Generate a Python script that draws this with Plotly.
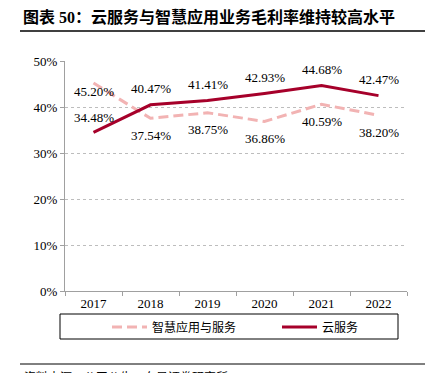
import plotly.graph_objects as go

years = ["2017", "2018", "2019", "2020", "2021", "2022"]
smart_app = [45.20, 37.54, 38.75, 36.86, 40.59, 38.20]
cloud = [34.48, 40.47, 41.41, 42.93, 44.68, 42.47]
y_ticks = [0, 10, 20, 30, 40, 50]
y_tick_labels = ["0%", "10%", "20%", "30%", "40%", "50%"]
name_smart = "智慧应用与服务"
name_cloud = "云服务"
title_text = "图表 50：云服务与智慧应用业务毛利率维持较高水平"
source_text = "资料来源：公司公告，东吴证券研究所"

# page is rendered with the browser's default 8px body margin
OFF = 8
PAGE_W, PAGE_H = 439, 373
W, H = PAGE_W - OFF, PAGE_H - OFF
# plot area in page pixels
L, R, T, B = 65, 407, 61, 291
PW, PH = R - L, B - T


def px(x):
    return (x - L) / PW


def py(y):
    return (B - y) / PH


SERIF = "Liberation Serif, Times New Roman, Noto Sans CJK SC, serif"
CJK = "Noto Sans CJK SC, sans-serif"
C_CLOUD = "#A6002A"
C_SMART = "#F2B3B3"

fig = go.Figure()
fig.add_trace(go.Scatter(x=years, y=smart_app, mode="lines", name=name_smart,
                         line=dict(color=C_SMART, width=3, dash="10px,5px"),
                         legend="legend"))
fig.add_trace(go.Scatter(x=years, y=cloud, mode="lines", name=name_cloud,
                         line=dict(color=C_CLOUD, width=3),
                         legend="legend2"))

smart_shift = [-8, -17, -17, -17, -17, -17]
cloud_shift = [15, 16, 16, 16, 16, 16]
annotations = []
for i, yr in enumerate(years):
    annotations.append(dict(x=i, y=smart_app[i], xref="x", yref="y",
                            text=f"{smart_app[i]:.2f}%", showarrow=False,
                            yshift=smart_shift[i],
                            font=dict(family=SERIF, size=13, color="#000")))
    annotations.append(dict(x=i, y=cloud[i], xref="x", yref="y",
                            text=f"{cloud[i]:.2f}%", showarrow=False,
                            yshift=cloud_shift[i],
                            font=dict(family=SERIF, size=13, color="#000")))

annotations.append(dict(x=px(21), y=py(17), xref="paper", yref="paper",
                        xanchor="left", yanchor="middle", showarrow=False,
                        text="<b>" + title_text + "</b>",
                        font=dict(family=SERIF, size=16, color="#000")))
annotations.append(dict(x=px(22), y=py(366), xref="paper", yref="paper",
                        xanchor="left", yanchor="top", showarrow=False,
                        text=source_text,
                        font=dict(family=CJK, size=12, color="#000")))

shapes = [
    dict(type="line", xref="paper", yref="paper", x0=px(20), x1=px(425),
         y0=py(31), y1=py(31), line=dict(color="#000", width=1.5)),
    dict(type="line", xref="paper", yref="paper", x0=px(20), x1=px(425),
         y0=py(364), y1=py(364), line=dict(color="#000", width=1)),
    dict(type="rect", xref="paper", yref="paper", x0=px(60), x1=px(398),
         y0=py(339), y1=py(314), line=dict(color="#000", width=1)),
]

fig.update_layout(
    width=W, height=H,
    margin=dict(l=L - OFF, r=PAGE_W - R, t=T - OFF, b=PAGE_H - B, pad=0,
                autoexpand=False),
    paper_bgcolor="white", plot_bgcolor="white",
    showlegend=True,
    legend=dict(x=px(107), y=py(327), xanchor="left", yanchor="middle",
                orientation="h", bgcolor="rgba(0,0,0,0)",
                font=dict(family=CJK, size=12, color="#000"), itemwidth=35),
    legend2=dict(x=px(277), y=py(327), xanchor="left", yanchor="middle",
                 orientation="h", bgcolor="rgba(0,0,0,0)",
                 font=dict(family=CJK, size=12, color="#000"), itemwidth=35),
    annotations=annotations,
    shapes=shapes,
    xaxis=dict(type="category", range=[-0.5, len(years) - 0.5],
               showgrid=False, showline=True,
               linecolor="#A0A0A0", ticks="outside", tickson="boundaries",
               ticklen=4, tickcolor="#A0A0A0",
               tickfont=dict(family=SERIF, size=13, color="#000")),
    yaxis=dict(range=[0, 50], tickvals=y_ticks, ticktext=y_tick_labels,
               showgrid=True, gridcolor="#BDBDBD", griddash="dot",
               showline=True, linecolor="#A0A0A0", ticks="outside",
               ticklen=4, tickcolor="#A0A0A0", zeroline=False,
               tickfont=dict(family=SERIF, size=13, color="#000")),
)

fig.write_html("out.html")
